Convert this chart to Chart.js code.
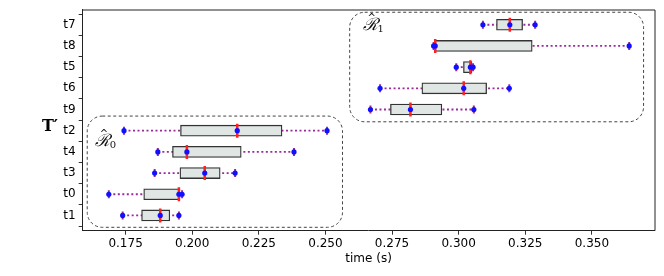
<!DOCTYPE html>
<html>
<head>
<meta charset="utf-8">
<script src="https://cdn.jsdelivr.net/npm/chart.js@4.4.1/dist/chart.umd.min.js"></script>
<style>
  html, body { margin: 0; padding: 0; background: #fff; }
  #wrap { width: 664px; height: 276px; }
</style>
</head>
<body>
<div id="wrap"><canvas id="boxChart" width="664" height="276"></canvas></div>
<script>
// rows from top to bottom
const rows = ['t7', 't8', 't5', 't6', 't9', 't2', 't4', 't3', 't0', 't1'];
const minVals = [0.3091, 0.2906, 0.2991, 0.2705, 0.2669, 0.1744, 0.1871, 0.1859, 0.1687, 0.1739];
const q1Vals  = [0.3142, 0.2911, 0.3018, 0.2862, 0.2744, 0.1956, 0.1926, 0.1954, 0.1818, 0.1810];
const medVals = [0.3192, 0.2912, 0.3044, 0.3019, 0.2819, 0.2169, 0.1980, 0.2047, 0.1950, 0.1880];
const q3Vals  = [0.3240, 0.3276, 0.3050, 0.3105, 0.2937, 0.2337, 0.2184, 0.2105, 0.1954, 0.1916];
const maxVals = [0.3287, 0.3640, 0.3054, 0.3190, 0.3057, 0.2506, 0.2382, 0.2161, 0.1962, 0.1950];
const xTicks = [0.175, 0.200, 0.225, 0.250, 0.275, 0.300, 0.325, 0.350];

// groups in data units (x = time, y = row index from top)
const groupNames = ['1', '0'];
const groupX = [[0.2591, 0.3694], [0.1606, 0.2564]];
const groupY = [[-0.59, 4.58], [4.31, 9.56]];
const groupLabelAt = [[0.2670, 0.0], [0.1665, 5.45]];

const rowIdx = rows.map((_, i) => i);
const boxFill = '#dfe6e4';
const purple = '#9a2a9a';
const blue = '#1010ff';

const datasets = [];

datasets.push({
  type: 'bar',
  indexAxis: 'y',
  data: rowIdx.map(i => ({ y: i, x: [q1Vals[i], q3Vals[i]] })),
  backgroundColor: boxFill,
  borderColor: '#333',
  borderWidth: 1.3,
  borderSkipped: false,
  barThickness: 11,
  order: 3
});

rowIdx.forEach(i => {
  datasets.push({
    type: 'line',
    data: [{ x: minVals[i], y: i }, { x: maxVals[i], y: i }],
    borderColor: purple,
    borderWidth: 1.8,
    borderDash: [2, 2.5],
    pointRadius: 0,
    order: 4
  });
});

// whisker caps
datasets.push({
  type: 'line',
  showLine: false,
  data: rowIdx.flatMap(i => [{ x: minVals[i], y: i }, { x: maxVals[i], y: i }]),
  pointStyle: 'line',
  rotation: 90,
  pointRadius: 4,
  pointBorderColor: purple,
  pointBorderWidth: 2,
  order: 2
});

// median lines
datasets.push({
  type: 'line',
  showLine: false,
  data: rowIdx.map(i => ({ x: medVals[i], y: i })),
  pointStyle: 'line',
  rotation: 90,
  pointRadius: 7,
  pointBorderColor: '#ff2020',
  pointBorderWidth: 2.5,
  order: 1
});

// blue markers at min, median, max
datasets.push({
  type: 'line',
  showLine: false,
  data: rowIdx.flatMap(i => [{ x: minVals[i], y: i }, { x: medVals[i], y: i }, { x: maxVals[i], y: i }]),
  pointStyle: 'circle',
  pointRadius: 2.6,
  pointBackgroundColor: blue,
  pointBorderColor: blue,
  pointBorderWidth: 0,
  order: 0
});

const decorPlugin = {
  id: 'decor',
  afterDatasetsDraw(chart) {
    const ctx = chart.ctx;
    const xs = chart.scales.x;
    const ys = chart.scales.y;
    const area = chart.chartArea;

    // top and right spines
    ctx.save();
    ctx.strokeStyle = '#222';
    ctx.lineWidth = 1;
    ctx.beginPath();
    ctx.moveTo(area.left, area.top + 0.5);
    ctx.lineTo(area.right + 0.5, area.top + 0.5);
    ctx.lineTo(area.right + 0.5, area.bottom);
    ctx.stroke();

    // dashed group boxes
    groupNames.forEach((name, g) => {
      const x0 = xs.getPixelForValue(groupX[g][0]);
      const x1 = xs.getPixelForValue(groupX[g][1]);
      const y0 = ys.getPixelForValue(groupY[g][0]);
      const y1 = ys.getPixelForValue(groupY[g][1]);
      ctx.setLineDash([3, 2.5]);
      ctx.strokeStyle = '#444';
      ctx.lineWidth = 1;
      ctx.beginPath();
      ctx.roundRect(x0, y0, x1 - x0, y1 - y0, 15);
      ctx.stroke();
      ctx.setLineDash([]);

      const lx = xs.getPixelForValue(groupLabelAt[g][0]);
      const ly = ys.getPixelForValue(groupLabelAt[g][1]);
      ctx.fillStyle = '#111';
      ctx.textBaseline = 'middle';
      ctx.textAlign = 'center';
      ctx.font = 'italic 17px "DejaVu Serif"';
      ctx.fillText('\u211B', lx, ly + 1);
      ctx.font = '10px "DejaVu Sans"';
      ctx.fillText('^', lx + 1, ly - 6);
      ctx.font = '10px "DejaVu Serif"';
      ctx.fillText(name, lx + 10, ly + 5);
    });

    // y-axis title
    ctx.fillStyle = '#000';
    ctx.font = 'bold 16px "DejaVu Serif"';
    ctx.textAlign = 'center';
    ctx.textBaseline = 'middle';
    ctx.fillText('T\u2032', 50, 127);
    ctx.restore();
  }
};

new Chart(document.getElementById('boxChart'), {
  data: { datasets },
  options: {
    responsive: false,
    animation: false,
    layout: { padding: { left: 0, top: 7, right: 9, bottom: 0 } },
    plugins: { legend: { display: false }, tooltip: { enabled: false } },
    scales: {
      x: {
        type: 'linear',
        offset: false,
        min: 0.1589,
        max: 0.3735,
        afterBuildTicks: s => { s.ticks = xTicks.map(v => ({ value: v })); },
        afterFit: s => { s.height = 45.3; s.paddingLeft = 0; s.paddingRight = 0; },
        ticks: {
          color: '#000',
          font: { family: 'DejaVu Sans', size: 12 },
          padding: 2,
          maxRotation: 0,
          callback: v => v.toFixed(3)
        },
        grid: { drawOnChartArea: false, drawTicks: true, tickLength: 4, color: '#333' },
        border: { display: true, color: '#222', width: 1 },
        title: {
          display: true,
          text: 'time (s)',
          color: '#000',
          font: { family: 'DejaVu Sans', size: 12 },
          padding: { top: 0, bottom: 10 }
        }
      },
      y: {
        type: 'linear',
        offset: false,
        reverse: true,
        min: -0.72,
        max: 9.72,
        afterBuildTicks: s => { s.ticks = rowIdx.map(v => ({ value: v })); },
        afterFit: s => { s.width = 82.7; s.paddingTop = 0; s.paddingBottom = 0; },
        ticks: {
          color: '#000',
          font: { family: 'DejaVu Sans', size: 12 },
          padding: 3,
          callback: v => rows[v]
        },
        grid: { drawOnChartArea: false, drawTicks: true, tickLength: 4, color: '#333' },
        border: { display: true, color: '#222', width: 1 }
      }
    }
  },
  plugins: [decorPlugin]
});
</script>
</body>
</html>
